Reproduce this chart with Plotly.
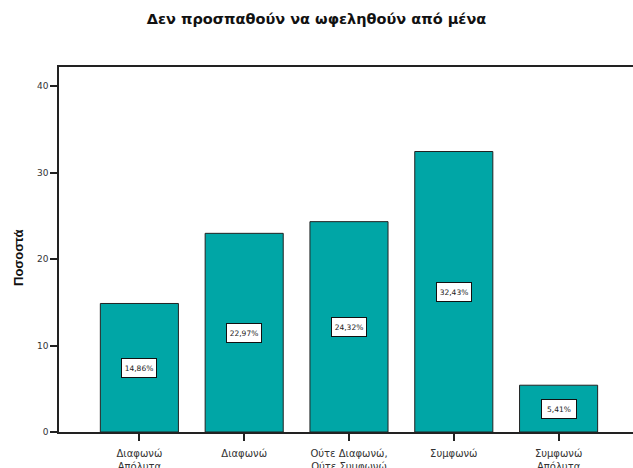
import plotly.graph_objects as go

categories = ["Διαφωνώ<br>Απόλυτα", "Διαφωνώ", "Ούτε Διαφωνώ,<br>Ούτε Συμφωνώ",
              "Συμφωνώ", "Συμφωνώ<br>Απόλυτα"]
percentages = [14.86, 22.97, 24.32, 32.43, 5.41]
y_ticks = [0, 10, 20, 30, 40]

title_text = "Δεν προσπαθούν να ωφεληθούν από μένα"
y_title = "Ποσοστά"

WIDE = "DejaVu Sans, Verdana, sans-serif"
ARIAL = "Liberation Sans, Arial, Helvetica, sans-serif"

W, H = 633, 468
L, R, T, B = 59, 0, 67, 36
positions = list(range(len(categories)))

fig = go.Figure()
fig.add_trace(go.Bar(
    x=positions,
    y=percentages,
    width=0.745,
    marker=dict(color="#00A6A6", line=dict(color="#222222", width=1)),
    hoverinfo="skip",
))

# value boxes in the middle of each bar
for xi, v in zip(positions, percentages):
    fig.add_annotation(
        x=xi, y=v / 2, xref="x", yref="y",
        text=f"{v:.2f}".replace(".", ",") + "%",
        showarrow=False,
        font=dict(family=WIDE, size=7.5, color="#222222"),
        bgcolor="white", bordercolor="#111111", borderwidth=1,
        width=32, height=16, borderpad=1,
    )

# rotated y-axis title
fig.add_annotation(
    x=(18 - L) / (W - L - R), y=(H - B - 258) / (H - B - T),
    xref="paper", yref="paper", xanchor="center", yanchor="middle",
    text=f"<b>{y_title}</b>", showarrow=False, textangle=-90,
    font=dict(family=ARIAL, size=13, color="#111111"),
)

fig.update_layout(
    width=W, height=H,
    margin=dict(l=L, r=R, t=T, b=B, pad=0, autoexpand=False),
    paper_bgcolor="white", plot_bgcolor="white",
    showlegend=False,
    title=dict(text=f"<b>{title_text}</b>", x=0.5, xanchor="center",
               y=1 - 19 / H, yanchor="middle",
               font=dict(family=WIDE, size=14.5, color="#111111")),
    xaxis=dict(
        range=[-0.767, 4.71], automargin=False,
        tickmode="array", tickvals=positions, ticktext=categories,
        ticks="outside", ticklen=7, tickwidth=1.5, tickcolor="#222222",
        ticklabelstandoff=4,
        showline=True, linecolor="#222222", linewidth=1.5, mirror=True,
        showgrid=False, zeroline=False, fixedrange=True,
        tickfont=dict(family=WIDE, size=10, color="#333333"),
    ),
    yaxis=dict(
        range=[0, 42.2], automargin=False,
        tickmode="array", tickvals=y_ticks,
        ticks="outside", ticklen=7, tickwidth=1.5, tickcolor="#222222",
        showline=True, linecolor="#222222", linewidth=1.5,
        showgrid=False, zeroline=False, fixedrange=True,
        tickfont=dict(family=WIDE, size=9, color="#333333"),
    ),
)

fig.write_html("out.html")
